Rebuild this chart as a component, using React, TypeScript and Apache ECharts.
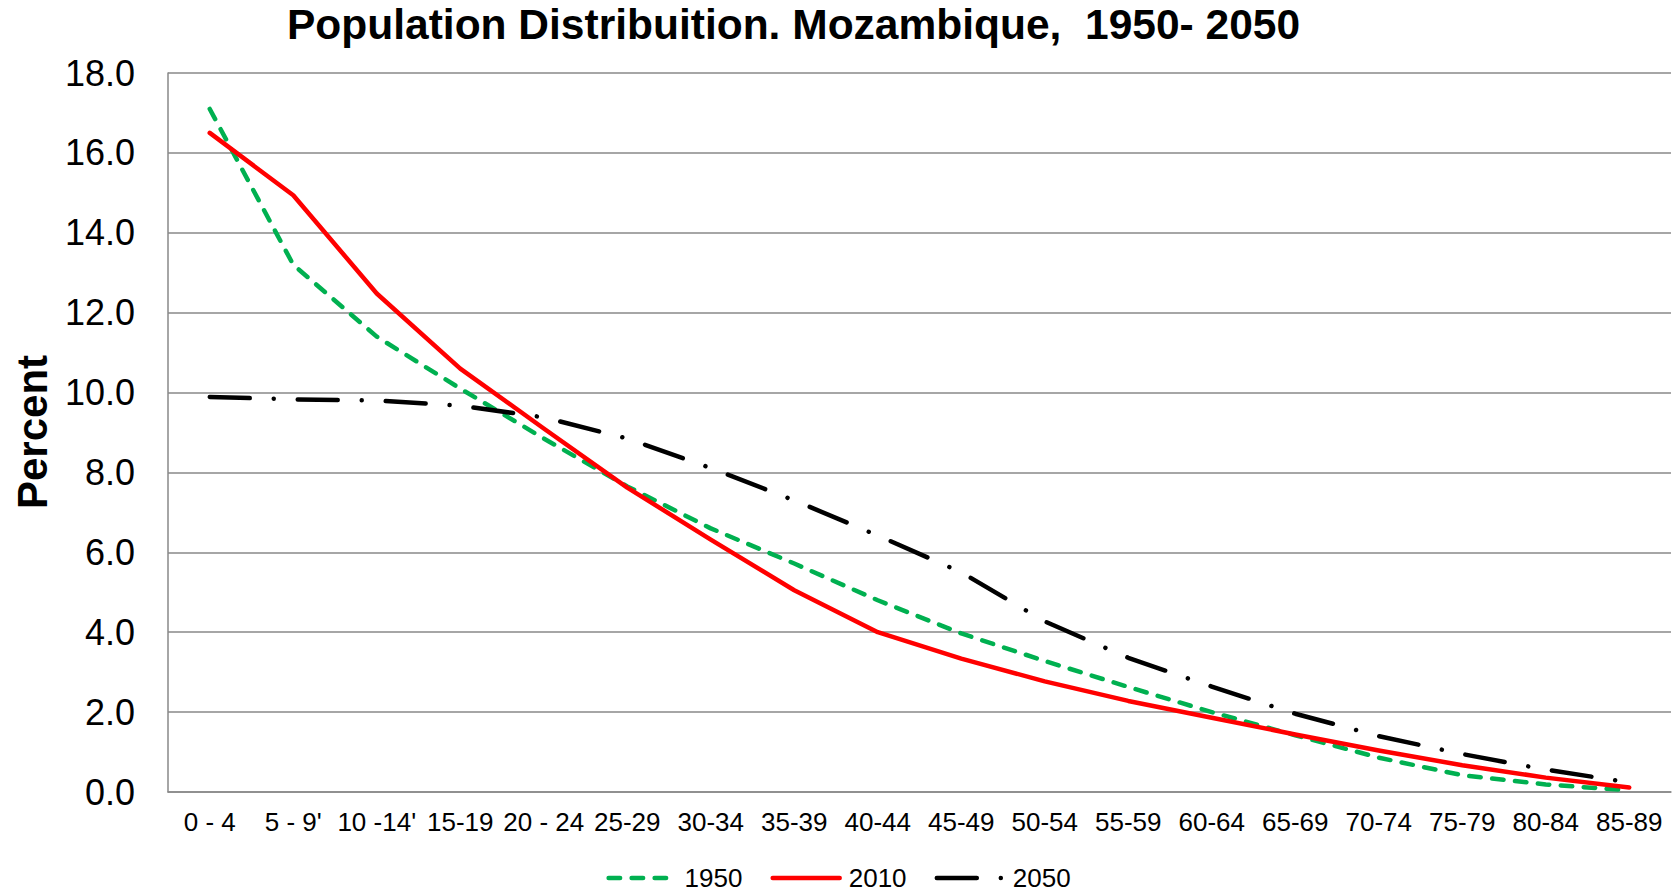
import React, { useEffect, useRef } from "react";
import * as echarts from "echarts";

const ageGroups = [
  "0 - 4", "5 - 9'", "10 -14'", "15-19", "20 - 24", "25-29", "30-34", "35-39", "40-44",
  "45-49", "50-54", "55-59", "60-64", "65-69", "70-74", "75-79", "80-84", "85-89",
];
const pct1950 = [17.1, 13.2, 11.4, 10.1, 8.85, 7.65, 6.6, 5.72, 4.8, 3.97, 3.28, 2.63, 2.0, 1.42, 0.86, 0.42, 0.19, 0.04];
const pct2010 = [16.5, 14.94, 12.48, 10.6, 9.1, 7.62, 6.32, 5.05, 4.0, 3.34, 2.77, 2.28, 1.86, 1.44, 1.04, 0.67, 0.36, 0.11];
const pct2050 = [9.89, 9.83, 9.8, 9.67, 9.38, 8.85, 8.11, 7.3, 6.42, 5.5, 4.27, 3.36, 2.64, 1.96, 1.4, 0.95, 0.56, 0.24];
const seriesNames = ["1950", "2010", "2050"];
const titleText = "Population Distribuition. Mozambique,  1950- 2050";
const yAxisTitle = "Percent";

const FONT = "'Liberation Sans', Arial, Helvetica, sans-serif";
const GRID = "#898989";

export default function App() {
  const ref = useRef<HTMLDivElement>(null);
  useEffect(() => {
    if (!ref.current) return;
    const chart = echarts.init(ref.current, undefined, { renderer: "svg" });
    const mk = (name: string, data: number[], color: string, dash: any) => ({
      name,
      type: "line",
      data,
      symbol: "none",
      showSymbol: false,
      itemStyle: { color },
      lineStyle: { color, width: 4.5, type: dash, cap: "round", join: "round" },
    });
    chart.setOption({
      animation: false,
      backgroundColor: "#ffffff",
      textStyle: { fontFamily: FONT },
      grid: { left: 168, right: 6, top: 73, bottom: 100, containLabel: false },
      graphic: [
        {
          type: "text",
          x: 287,
          y: 24,
          style: {
            text: titleText,
            font: `bold 42.5px ${FONT}`,
            fill: "#000",
            textAlign: "left",
            textVerticalAlign: "middle",
          },
        },
        {
          type: "text",
          x: 32,
          y: 432,
          rotation: Math.PI / 2,
          style: {
            text: yAxisTitle,
            font: `bold 42px ${FONT}`,
            fill: "#000",
            textAlign: "center",
            textVerticalAlign: "middle",
          },
        },
      ],
      legend: {
        data: seriesNames,
        left: "center",
        top: 860,
        itemWidth: 67,
        itemHeight: 14,
        itemGap: 28,
        itemStyle: { opacity: 0 },
        lineStyle: { width: "inherit" },
        textStyle: { fontSize: 26, color: "#000", fontFamily: FONT, padding: [0, 0, 0, 4] },
      },
      xAxis: {
        type: "category",
        data: ageGroups,
        boundaryGap: true,
        axisLine: { show: true, lineStyle: { color: GRID, width: 1.5 } },
        axisTick: { show: false },
        axisLabel: { interval: 0, color: "#000", fontSize: 26, margin: 17, fontFamily: FONT },
        splitLine: { show: false },
      },
      yAxis: {
        type: "value",
        min: 0,
        max: 18,
        interval: 2,
        axisLine: { show: true, lineStyle: { color: GRID, width: 1.5 } },
        axisTick: { show: false },
        axisLabel: {
          color: "#000",
          fontSize: 36,
          margin: 33,
          fontFamily: FONT,
          formatter: (v: number) => v.toFixed(1),
        },
        splitLine: { show: true, lineStyle: { color: GRID, width: 1.5 } },
      },
      series: [
        mk(seriesNames[0], pct1950, "#00B050", [11.5, 11.5]),
        mk(seriesNames[1], pct2010, "#FF0000", "solid"),
        mk(seriesNames[2], pct2050, "#000000", [40, 24, 0.01, 24]),
      ],
    });
    return () => chart.dispose();
  }, []);
  return (
    <div
      ref={ref}
      style={{ position: "fixed", left: 0, top: 0, width: 1677, height: 892, background: "#fff" }}
    />
  );
}
